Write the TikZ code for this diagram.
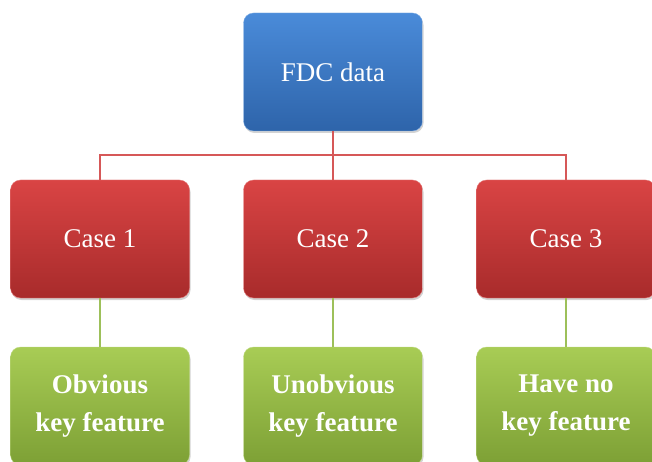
\documentclass[tikz,border=0pt]{standalone}
\usepackage{fontspec}
\setmainfont{Liberation Serif}
\usetikzlibrary{shadows}

\definecolor{blueTop}{HTML}{4A8BD9}
\definecolor{blueBot}{HTML}{2E64AA}
\definecolor{redTop}{HTML}{D94444}
\definecolor{redBot}{HTML}{A82B2B}
\definecolor{greenTop}{HTML}{A8CC55}
\definecolor{greenBot}{HTML}{7DA035}
\definecolor{redLine}{HTML}{D65858}
\definecolor{greenLine}{HTML}{9DC05A}

\tikzset{
  box/.style={rectangle, rounded corners=10pt, minimum width=179pt,
    minimum height=118pt, text=white, align=center,
    drop shadow={opacity=0.35, shadow xshift=1pt, shadow yshift=-2pt}},
  topbox/.style={box, top color=blueTop, bottom color=blueBot, draw=blueTop!70!white,
    font=\fontsize{27}{32}\selectfont},
  casebox/.style={box, top color=redTop, bottom color=redBot, draw=redTop!70!white,
    font=\fontsize{27}{32}\selectfont},
  featbox/.style={box, top color=greenTop, bottom color=greenBot, draw=greenTop!70!white,
    font=\fontsize{27}{38}\selectfont\bfseries},
  redline/.style={draw=redLine, line width=1.8pt},
  greenline/.style={draw=greenLine, line width=1.8pt}
}

\begin{document}
\begin{tikzpicture}[x=1pt,y=-1pt]

      \clip (0,0) rectangle (652,462);

      \coordinate (hub) at (333,155);

      % boxes
      \node[topbox]  (fdc)   at (333,72)  {FDC data};

      \node[casebox] (case1) at (100,239) {Case 1};
      \node[casebox] (case2) at (333,239) {Case 2};
      \node[casebox] (case3) at (566,239) {Case 3};

      \node[featbox] (feat1) at (100,406) {Obvious\\key feature};
      \node[featbox] (feat2) at (333,406) {Unobvious\\key feature};
      \node[featbox] (feat3) at (566,406) {Have no\\key feature};

      % connectors
      \draw[redline] (fdc.south) -- (hub) -| (case1.north);
      \draw[redline] (hub) -- (case2.north);
      \draw[redline] (hub) -| (case3.north);

      \draw[greenline] (case1) -- (feat1);
      \draw[greenline] (case2) -- (feat2);
      \draw[greenline] (case3) -- (feat3);

    \end{tikzpicture}
\end{document}
